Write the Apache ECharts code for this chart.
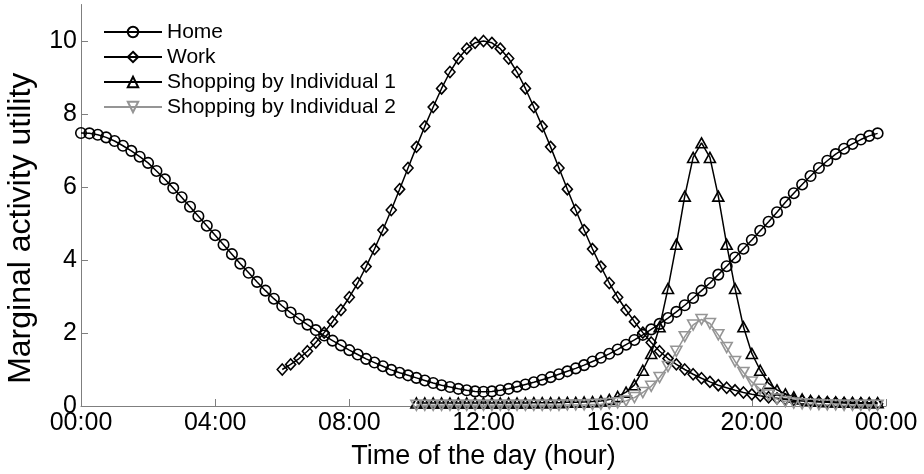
<!DOCTYPE html>
<html>
<head>
<meta charset="utf-8">
<script src="https://cdn.jsdelivr.net/npm/echarts@6/dist/echarts.min.js"></script>
<style>
html,body{margin:0;padding:0;background:#fff;}
#chart{width:924px;height:474px;}
</style>
</head>
<body>
<div id="chart"></div>
<script>
// Time of day (hours), 15-minute steps
const hours = [
  0,0.25,0.5,0.75, 1,1.25,1.5,1.75, 2,2.25,2.5,2.75, 3,3.25,3.5,3.75,
  4,4.25,4.5,4.75, 5,5.25,5.5,5.75, 6,6.25,6.5,6.75, 7,7.25,7.5,7.75,
  8,8.25,8.5,8.75, 9,9.25,9.5,9.75, 10,10.25,10.5,10.75, 11,11.25,11.5,11.75,
  12,12.25,12.5,12.75, 13,13.25,13.5,13.75, 14,14.25,14.5,14.75, 15,15.25,15.5,15.75,
  16,16.25,16.5,16.75, 17,17.25,17.5,17.75, 18,18.25,18.5,18.75, 19,19.25,19.5,19.75,
  20,20.25,20.5,20.75, 21,21.25,21.5,21.75, 22,22.25,22.5,22.75, 23,23.25,23.5,23.75
];

const homeValues = [
  7.48,7.47,7.43,7.36, 7.26,7.13,6.99,6.83, 6.66,6.44,6.21,5.97, 5.72,5.46,5.20,4.94,
  4.68,4.42,4.16,3.90, 3.65,3.40,3.16,2.94, 2.74,2.56,2.39,2.23, 2.08,1.93,1.79,1.66,
  1.53,1.41,1.29,1.19, 1.09,0.99,0.91,0.84, 0.77,0.70,0.63,0.57, 0.52,0.47,0.43,0.40,
  0.39,0.40,0.43,0.47, 0.53,0.59,0.65,0.72, 0.79,0.87,0.95,1.03, 1.12,1.22,1.32,1.43,
  1.55,1.68,1.81,1.95, 2.10,2.25,2.41,2.58, 2.76,2.96,3.16,3.37, 3.60,3.83,4.07,4.31,
  4.55,4.80,5.05,5.31, 5.58,5.83,6.07,6.30, 6.52,6.72,6.90,7.05, 7.18,7.30,7.40,7.47
];

const workValues = [
  null,null,null,null, null,null,null,null, null,null,null,null, null,null,null,null,
  null,null,null,null, null,null,null,null, 1.00,1.14,1.30,1.50, 1.74,2.01,2.31,2.63,
  2.98,3.37,3.82,4.30, 4.82,5.37,5.94,6.52, 7.10,7.66,8.19,8.70, 9.15,9.52,9.79,9.95,
  10.0,9.95,9.79,9.52, 9.15,8.70,8.19,7.66, 7.10,6.52,5.94,5.37, 4.82,4.30,3.82,3.37,
  2.98,2.63,2.31,2.01, 1.74,1.50,1.30,1.14, 1.00,0.87,0.76,0.66, 0.57,0.50,0.43,0.37,
  0.32,0.28,0.24,0.21, 0.18,0.16,0.14,0.12, 0.11,0.10,0.09,0.08, 0.07,0.07,0.06,0.06
];

const shop1Values = [
  null,null,null,null, null,null,null,null, null,null,null,null, null,null,null,null,
  null,null,null,null, null,null,null,null, null,null,null,null, null,null,null,null,
  null,null,null,null, null,null,null,null, 0.08,0.08,0.08,0.08, 0.08,0.08,0.08,0.08,
  0.08,0.08,0.08,0.08, 0.08,0.08,0.09,0.09, 0.09,0.09,0.10,0.10, 0.11,0.12,0.14,0.18,
  0.26,0.38,0.58,0.98, 1.44,2.17,3.22,4.43, 5.75,6.81,7.21,6.81, 5.75,4.43,3.22,2.17,
  1.44,0.98,0.62,0.44, 0.33,0.25,0.19,0.15, 0.13,0.12,0.11,0.10, 0.10,0.09,0.09,0.09
];

const shop2Values = [
  null,null,null,null, null,null,null,null, null,null,null,null, null,null,null,null,
  null,null,null,null, null,null,null,null, null,null,null,null, null,null,null,null,
  null,null,null,null, null,null,null,null, 0.02,0.02,0.02,0.02, 0.02,0.02,0.02,0.02,
  0.02,0.02,0.02,0.02, 0.02,0.02,0.02,0.02, 0.02,0.02,0.03,0.03, 0.03,0.04,0.05,0.07,
  0.09,0.14,0.23,0.37, 0.54,0.78,1.08,1.50, 1.90,2.22,2.37,2.26, 1.95,1.60,1.22,0.92,
  0.66,0.46,0.30,0.19, 0.12,0.08,0.06,0.05, 0.04,0.03,0.03,0.02, 0.02,0.02,0.02,0.02
];

const seriesNames = ['Home', 'Work', 'Shopping by Individual 1', 'Shopping by Individual 2'];
const xTicks = [0, 4, 8, 12, 16, 20, 24];
const xTickLabels = ['00:00', '04:00', '08:00', '12:00', '16:00', '20:00', '00:00'];
const yTicks = [0, 2, 4, 6, 8, 10];

function pairs(vals) {
  const out = [];
  for (let i = 0; i < hours.length; i++) {
    if (vals[i] !== null) out.push([hours[i], vals[i]]);
  }
  return out;
}

const FONT = '"Liberation Sans", Arial, sans-serif';
const AXIS_GRAY = '#7f7f7f';
const GRAY = '#959595';

function makeSeries(name, vals, symbol, color, size) {
  return {
    name: name,
    type: 'line',
    data: pairs(vals),
    symbol: symbol,
    symbolSize: size,
    showAllSymbol: true,
    lineStyle: { color: color, width: 1.5 },
    itemStyle: { color: 'rgba(255,255,255,0)', borderColor: color, borderWidth: 1.6 },
    emphasis: { disabled: true },
    animation: false
  };
}

const chart = echarts.init(document.getElementById('chart'), null, { renderer: 'canvas' });
chart.setOption({
  backgroundColor: '#fff',
  animation: false,
  textStyle: { fontFamily: FONT },
  grid: { left: 81, right: 38, top: 4.5, bottom: 68, outerBoundsMode: 'none', containLabel: false },
  legend: {
    orient: 'vertical',
    left: 103,
    top: 21.5,
    padding: 0,
    itemWidth: 58,
    itemHeight: 13,
    itemGap: 4,
    textStyle: { fontFamily: FONT, fontSize: 21, color: '#000', lineHeight: 21 },
    data: seriesNames
  },
  xAxis: {
    type: 'value',
    min: 0,
    max: 24,
    interval: 4,
    name: 'Time of the day (hour)',
    nameLocation: 'middle',
    nameGap: 37,
    nameTextStyle: { fontFamily: FONT, fontSize: 27, color: '#000' },
    axisLine: { lineStyle: { color: AXIS_GRAY, width: 1 } },
    axisTick: { inside: true, length: 7, lineStyle: { color: AXIS_GRAY } },
    axisLabel: {
      fontFamily: FONT, fontSize: 25, color: '#000', margin: 5,
      formatter: function (v) { const i = xTicks.indexOf(v); return i >= 0 ? xTickLabels[i] : ''; }
    },
    splitLine: { show: false }
  },
  yAxis: {
    type: 'value',
    min: 0,
    max: 11,
    interval: 1,
    name: 'Marginal activity utility',
    nameLocation: 'middle',
    nameGap: 44,
    nameRotate: 90,
    nameTextStyle: { fontFamily: FONT, fontSize: 32, color: '#000', padding: [0, 46, 0, 0] },
    axisLine: { show: true, lineStyle: { color: AXIS_GRAY, width: 1 } },
    axisTick: { show: true, inside: true, length: 7, lineStyle: { color: AXIS_GRAY }, customValues: yTicks },
    axisLabel: { fontFamily: FONT, fontSize: 25, color: '#000', margin: 4, customValues: yTicks },
    splitLine: { show: false }
  },
  series: [
    makeSeries(seriesNames[0], homeValues, 'circle', '#000', 10.5),
    makeSeries(seriesNames[1], workValues, 'diamond', '#000', [10, 11]),
    makeSeries(seriesNames[2], shop1Values, 'triangle', '#000', [11, 10]),
    makeSeries(seriesNames[3], shop2Values, 'path://M0,0 L10,0 L5,8.66 Z', GRAY, [11, 10])
  ]
});
</script>
</body>
</html>
